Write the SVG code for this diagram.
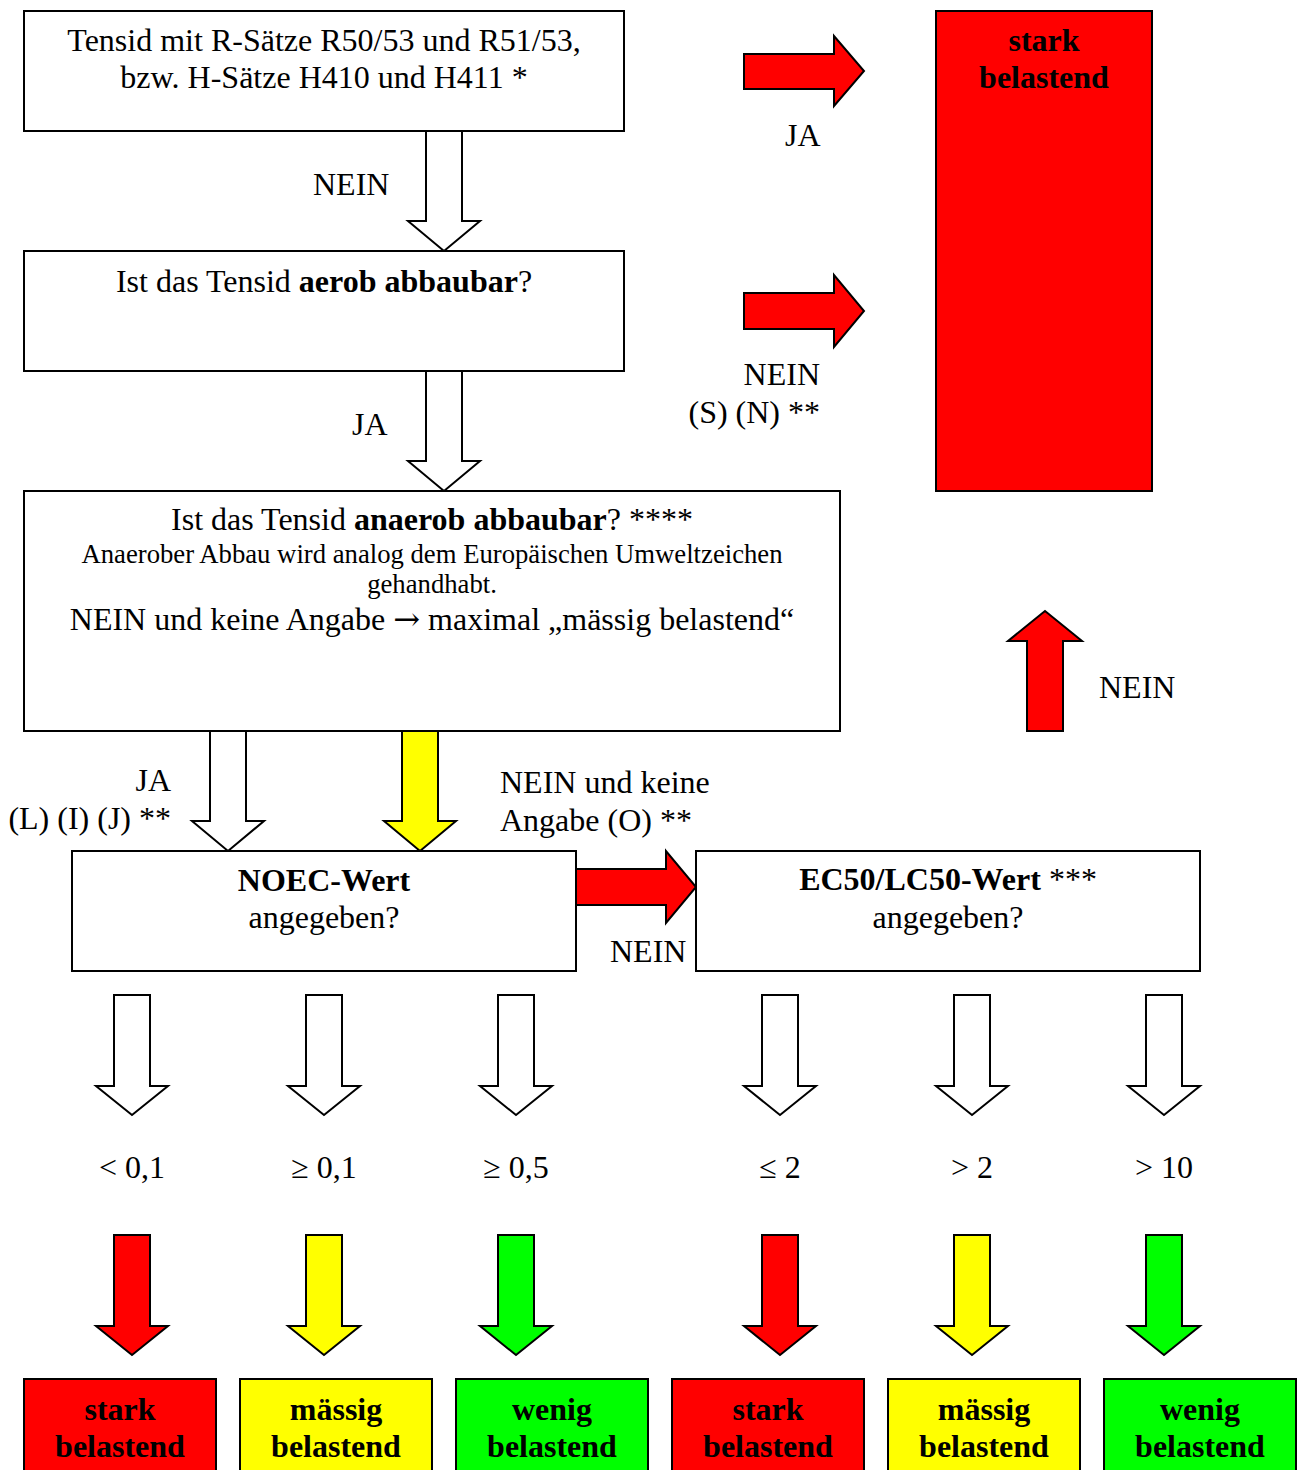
<svg xmlns="http://www.w3.org/2000/svg" width="1303" height="1470" viewBox="0 0 1303 1470">
<style>
text{font-family:"Liberation Serif","Times New Roman",serif;fill:#000}
.t{font-size:32px}
.s{font-size:26.7px}
.b{font-weight:bold}
.c{text-anchor:middle}
.e{text-anchor:end}
.ar{font-family:"DejaVu Serif","Liberation Serif",serif}
.box{fill:#fff;stroke:#000;stroke-width:2}
.red{fill:#ff0000;stroke:#000;stroke-width:2}
.yel{fill:#ffff00;stroke:#000;stroke-width:2}
.grn{fill:#00ff00;stroke:#000;stroke-width:2}
.wa{fill:#fff;stroke:#000;stroke-width:2;stroke-linejoin:miter}
</style>
<rect width="1303" height="1470" fill="#fff"/>
<g id="connectors">
<polygon class="wa" points="426,131 462,131 462,221 480,221 444,251 408,221 426,221"/>
<polygon class="wa" points="426,371 462,371 462,461 480,461 444,491 408,461 426,461"/>
<polygon class="wa" points="210,731 246,731 246,821 264,821 228,851 192,821 210,821"/>
<polygon class="yel" points="402,731 438,731 438,821 456,821 420,851 384,821 402,821"/>
<polygon class="red" points="744,54 834,54 834,36 864,71 834,106 834,89 744,89"/>
<polygon class="red" points="744,293 834,293 834,275 864,311 834,347 834,329 744,329"/>
<polygon class="red" points="576,869 666,869 666,851 696,887 666,923 666,905 576,905"/>
<polygon class="red" points="1027,731 1027,641 1008,641 1045,611 1082,641 1063,641 1063,731"/>
<polygon class="wa" points="114,995 150,995 150,1086 168,1086 132,1115 96,1086 114,1086"/>
<polygon class="wa" points="306,995 342,995 342,1086 360,1086 324,1115 288,1086 306,1086"/>
<polygon class="wa" points="498,995 534,995 534,1086 552,1086 516,1115 480,1086 498,1086"/>
<polygon class="wa" points="762,995 798,995 798,1086 816,1086 780,1115 744,1086 762,1086"/>
<polygon class="wa" points="954,995 990,995 990,1086 1008,1086 972,1115 936,1086 954,1086"/>
<polygon class="wa" points="1146,995 1182,995 1182,1086 1200,1086 1164,1115 1128,1086 1146,1086"/>
<polygon class="red" points="114,1235 150,1235 150,1326 168,1326 132,1355 96,1326 114,1326"/>
<polygon class="yel" points="306,1235 342,1235 342,1326 360,1326 324,1355 288,1326 306,1326"/>
<polygon class="grn" points="498,1235 534,1235 534,1326 552,1326 516,1355 480,1326 498,1326"/>
<polygon class="red" points="762,1235 798,1235 798,1326 816,1326 780,1355 744,1326 762,1326"/>
<polygon class="yel" points="954,1235 990,1235 990,1326 1008,1326 972,1355 936,1326 954,1326"/>
<polygon class="grn" points="1146,1235 1182,1235 1182,1326 1200,1326 1164,1355 1128,1326 1146,1326"/>
<text class="t" x="313" y="195">NEIN</text>
<text class="t" x="352" y="435">JA</text>
<text class="t" x="785" y="146">JA</text>
<text class="t e" x="820" y="385">NEIN</text>
<text class="t e" x="820" y="423">(S) (N) **</text>
<text class="t" x="1099" y="698">NEIN</text>
<text class="t e" x="171" y="791">JA</text>
<text class="t e" x="171" y="829">(L) (I) (J) **</text>
<text class="t" x="500" y="793">NEIN und keine</text>
<text class="t" x="500" y="831">Angabe (O) **</text>
<text class="t" x="610" y="962">NEIN</text>
<text class="t c" x="132" y="1178">&lt; 0,1</text>
<text class="t c" x="324" y="1178">≥ 0,1</text>
<text class="t c" x="516" y="1178">≥ 0,5</text>
<text class="t c" x="780" y="1178">≤ 2</text>
<text class="t c" x="972" y="1178">&gt; 2</text>
<text class="t c" x="1164" y="1178">&gt; 10</text>
</g>
<g id="n1">
<rect class="box" x="24" y="11" width="600" height="120"/>
<text class="t c" x="324" y="51">Tensid mit R-Sätze R50/53 und R51/53,</text>
<text class="t c" x="324" y="88">bzw. H-Sätze H410 und H411 *</text>
</g>
<g id="n2">
<rect class="box" x="24" y="251" width="600" height="120"/>
<text class="t c" x="324" y="292">Ist das Tensid <tspan class="b">aerob abbaubar</tspan>?</text>
</g>
<g id="n3">
<rect class="box" x="24" y="491" width="816" height="240"/>
<text class="t c" x="432" y="530">Ist das Tensid <tspan class="b">anaerob abbaubar</tspan>? ****</text>
<text class="s c" x="432" y="563">Anaerober Abbau wird analog dem Europäischen Umweltzeichen</text>
<text class="s c" x="432" y="593">gehandhabt.</text>
<text class="t c" x="432" y="630">NEIN und keine Angabe <tspan class="ar">→</tspan> maximal „mässig belastend“</text>
</g>
<g id="n_stark_top">
<rect class="red" x="936" y="11" width="216" height="480"/>
<text class="t b c" x="1044" y="51">stark</text>
<text class="t b c" x="1044" y="88">belastend</text>
</g>
<g id="n_noec">
<rect class="box" x="72" y="851" width="504" height="120"/>
<text class="t b c" x="324" y="891">NOEC-Wert</text>
<text class="t c" x="324" y="928">angegeben?</text>
</g>
<g id="n_ec50">
<rect class="box" x="696" y="851" width="504" height="120"/>
<text class="t c" x="948" y="890"><tspan class="b">EC50/LC50-Wert</tspan> ***</text>
<text class="t c" x="948" y="928">angegeben?</text>
</g>
<g id="r1">
<rect class="red" x="24" y="1379" width="192" height="110"/>
<text class="t b c" x="120" y="1420">stark</text>
<text class="t b c" x="120" y="1457">belastend</text>
</g>
<g id="r2">
<rect class="yel" x="240" y="1379" width="192" height="110"/>
<text class="t b c" x="336" y="1420">mässig</text>
<text class="t b c" x="336" y="1457">belastend</text>
</g>
<g id="r3">
<rect class="grn" x="456" y="1379" width="192" height="110"/>
<text class="t b c" x="552" y="1420">wenig</text>
<text class="t b c" x="552" y="1457">belastend</text>
</g>
<g id="r4">
<rect class="red" x="672" y="1379" width="192" height="110"/>
<text class="t b c" x="768" y="1420">stark</text>
<text class="t b c" x="768" y="1457">belastend</text>
</g>
<g id="r5">
<rect class="yel" x="888" y="1379" width="192" height="110"/>
<text class="t b c" x="984" y="1420">mässig</text>
<text class="t b c" x="984" y="1457">belastend</text>
</g>
<g id="r6">
<rect class="grn" x="1104" y="1379" width="192" height="110"/>
<text class="t b c" x="1200" y="1420">wenig</text>
<text class="t b c" x="1200" y="1457">belastend</text>
</g>
</svg>
